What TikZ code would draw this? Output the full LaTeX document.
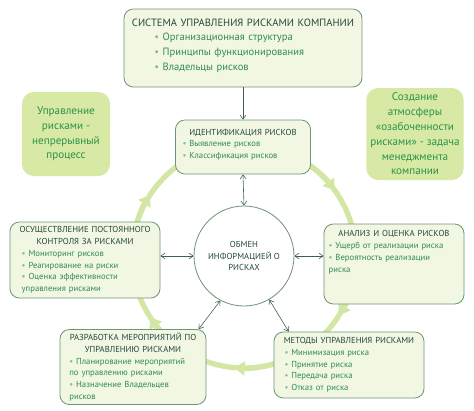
\documentclass[tikz,border=0pt]{standalone}
\usepackage{fontspec}
\setmainfont{PT Sans}
\usetikzlibrary{arrows.meta}

\definecolor{cajafondo}{HTML}{F2F7E3}
\definecolor{cajaborde}{HTML}{6E9676}
\definecolor{titulo}{HTML}{24473C}
\definecolor{punto}{HTML}{2F8A55}
\definecolor{ladofondo}{HTML}{D7E9A4}
\definecolor{ladotexto}{HTML}{2C9247}
\definecolor{verdeanillo}{HTML}{D4E6A3}
\definecolor{gris}{HTML}{3F5F50}

\newcommand{\tit}[1]{{\centering\color{titulo}#1\par}}
\newcommand{\bul}{{\color{punto!60}\textbullet}~}

\begin{document}
\begin{tikzpicture}[x=0.03cm, y=-0.03cm,
  caja/.style={rectangle, rounded corners=8pt, draw=cajaborde, fill=cajafondo, line width=0.7pt, inner xsep=4pt, inner ysep=3pt, text=punto, font=\fontsize{7.4}{10}\selectfont},
  lado/.style={rectangle, rounded corners=10pt, fill=ladofondo, text=ladotexto, align=center, font=\fontsize{9.5}{12.6}\selectfont},
  anillo/.style={draw=verdeanillo, line width=4.5pt},
  cabeza/.style={anillo, -{Triangle[width=12pt,length=9pt]}},
  flecha/.style={draw=gris, line width=0.5pt, -{Straight Barb[length=3.5pt,width=5pt]}},
  flechas/.style={flecha, {Straight Barb[length=3.5pt,width=5pt]}-{Straight Barb[length=3.5pt,width=5pt]}}]

\useasboundingbox (0,0) rectangle (474,410);

%% CICLO
\coordinate (ctr) at (244,256);
\draw[anillo] (ctr) circle[radius=112];
% puntas del ciclo
\draw[cabeza] ([shift={(-169:112)}]ctr) arc (-169:-147:112);
\draw[cabeza] ([shift={(-58:112)}]ctr) arc (-58:-36:112);
\draw[cabeza] ([shift={(10:112)}]ctr) arc (10:32:112);
\draw[cabeza] ([shift={(73:112)}]ctr) arc (73:95:112);
\draw[cabeza] ([shift={(125:112)}]ctr) arc (125:147:112);

%% SISTEMA
\node[caja, text width=6.86cm, minimum height=2.34cm, font=\fontsize{9}{12.6}\selectfont] at (243,48) (sys)
{\tit{СИСТЕМА УПРАВЛЕНИЯ РИСКАМИ КОМПАНИИ}
{\raggedright\leftskip=22pt \bul Организационная структура\\ \bul Принципы функционирования\\ \bul Владельцы рисков\par}\vspace*{4pt}};

% Cajas laterales
\node[lado, minimum width=2.64cm, minimum height=2.52cm] at (66,134) (proc)
{Управление\\ рисками -\\ непрерывный\\ процесс};
\node[lado, minimum width=2.82cm, minimum height=2.76cm] at (415,134) (atm)
{Создание\\ атмосферы\\ «озабоченности\\ рисками» - задача\\ менеджмента\\ компании};

%% ETAPAS
\node[caja, text width=3.77cm, minimum height=1.62cm] at (243,147) (ident)
{\tit{ИДЕНТИФИКАЦИЯ РИСКОВ}
{\raggedright\leftskip=2pt \bul Выявление рисков\\ \bul Классификация рисков\par}\vspace*{4pt}};

\node[caja, text width=4.22cm, minimum height=2.28cm] at (85,260) (contr)
{\tit{ОСУЩЕСТВЛЕНИЕ ПОСТОЯННОГО\\ КОНТРОЛЯ ЗА РИСКАМИ}
{\raggedright\leftskip=6pt \bul Мониторинг рисков\\ \bul Реагирование на риски\\ \bul Оценка эффективности\\ управления рисками\par}};

\node[caja, text width=3.92cm, minimum height=2.4cm] at (394,264) (anal)
{\tit{АНАЛИЗ И ОЦЕНКА РИСКОВ}
{\raggedright \bul Ущерб от реализации риска\\ \bul Вероятность реализации\\ риска\par}\vspace*{20pt}};

\node[caja, text width=4.10cm, minimum height=2.25cm] at (133,367) (plan)
{\tit{РАЗРАБОТКА МЕРОПРИЯТИЙ ПО\\ УПРАВЛЕНИЮ РИСКАМИ}
{\raggedright\leftskip=4pt \bul Планирование мероприятий\\ по управлению рисками\\ \bul Назначение Владельцев\\ рисков\par}};

\node[caja, text width=4.22cm, minimum height=1.98cm] at (349,365) (metod)
{\tit{МЕТОДЫ УПРАВЛЕНИЯ РИСКАМИ}
{\raggedright\leftskip=5pt \bul Минимизация риска\\ \bul Принятие риска\\ \bul Передача риска\\ \bul Отказ от риска\par}};

% Centro
\node[circle, draw=cajaborde, fill=white, line width=0.7pt, minimum size=3cm, align=center, text=titulo, font=\fontsize{7.4}{10}\selectfont] at (ctr) (inter)
{ОБМЕН\\ ИНФОРМАЦИЕЙ О\\ РИСКАХ};

%% FLECHAS
\draw[flecha] (sys.south) -- (ident.north);
\draw[flechas] (ident.south) -- (inter.north);
\draw[flechas] (inter.west) -- (inter.west -| contr.east);
\draw[flechas] (inter.east) -- (inter.east -| anal.west);
\draw[flechas] (inter.-118) -- (plan.30);
\draw[flechas] (inter.-60) -- (metod.151);

\end{tikzpicture}
\end{document}
